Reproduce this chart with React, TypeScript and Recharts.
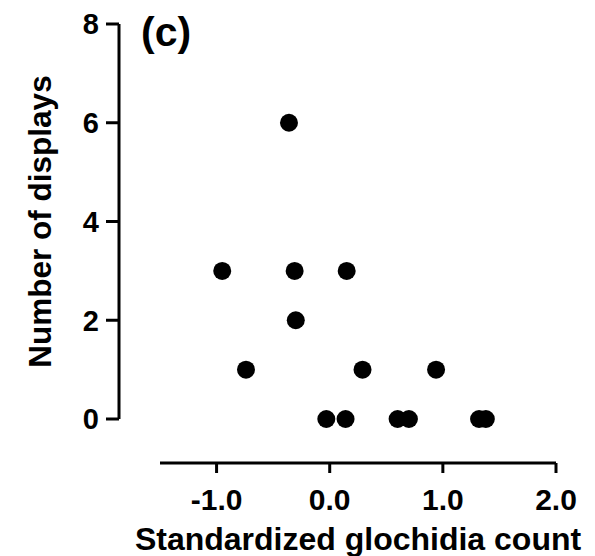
import { ScatterChart, Scatter, XAxis, YAxis } from 'recharts'

// standardized glochidia count vs number of displays
const glochidia = [-0.95, -0.74, -0.36, -0.31, -0.3, 0.15, 0.29, -0.03, 0.14, 0.6, 0.7, 0.94, 1.32, 1.38]
const displays = [3, 1, 6, 3, 2, 3, 1, 0, 0, 0, 0, 1, 0, 0]

const xTicks = [-1, 0, 1, 2]
const yTicks = [0, 2, 4, 6, 8]

const points = glochidia.map((x, i) => ({ x, y: displays[i] }))

const font = '"Liberation Sans", Arial, sans-serif'

// axes are drawn detached from the plot area, as in the original figure
const Y_SHIFT = -41
const X_SHIFT = 44

const Dot = (props: any) => <circle cx={props.cx} cy={props.cy} r={9} fill="#000" />

export default function App() {
  return (
    <div style={{ position: 'absolute', left: 0, top: 0, width: 595, height: 556, background: '#fff' }}>
      <ScatterChart width={595} height={556} margin={{ top: 24, right: 39, left: 0, bottom: 0 }}>
        <XAxis
          type="number"
          dataKey="x"
          domain={[-1.5, 2]}
          ticks={xTicks}
          height={137}
          tickSize={10}
          tickFormatter={(v) => v.toFixed(1)}
          axisLine={{ stroke: '#000', strokeWidth: 3, transform: `translate(0,${X_SHIFT})` }}
          tickLine={{ stroke: '#000', strokeWidth: 3, transform: `translate(0,${X_SHIFT})` }}
          tick={{ dy: X_SHIFT + 14, fill: '#000', fontSize: 30, fontWeight: 'bold', fontFamily: font }}
          label={{
            value: 'Standardized glochidia count',
            position: 'insideBottom',
            offset: 6,
            fill: '#000',
            fontSize: 32,
            fontWeight: 'bold',
            fontFamily: font
          }}
        />
        <YAxis
          type="number"
          dataKey="y"
          domain={[0, 8]}
          ticks={yTicks}
          width={160}
          tickSize={13}
          axisLine={{ stroke: '#000', strokeWidth: 3, transform: `translate(${Y_SHIFT},0)` }}
          tickLine={{ stroke: '#000', strokeWidth: 3, transform: `translate(${Y_SHIFT},0)` }}
          tick={{ dx: Y_SHIFT - 5, fill: '#000', fontSize: 29, fontWeight: 'bold', fontFamily: font }}
          label={{
            value: 'Number of displays',
            angle: -90,
            position: 'insideLeft',
            offset: 40,
            fill: '#000',
            fontSize: 31.5,
            fontWeight: 'bold',
            fontFamily: font,
            style: { textAnchor: 'middle' }
          }}
        />
        <Scatter data={points} shape={Dot} isAnimationActive={false} />
      </ScatterChart>
      <div
        style={{
          position: 'absolute',
          left: 141,
          top: 9,
          fontFamily: font,
          fontWeight: 'bold',
          fontSize: 41,
          lineHeight: '46px',
          color: '#000'
        }}
      >
        (c)
      </div>
    </div>
  )
}
